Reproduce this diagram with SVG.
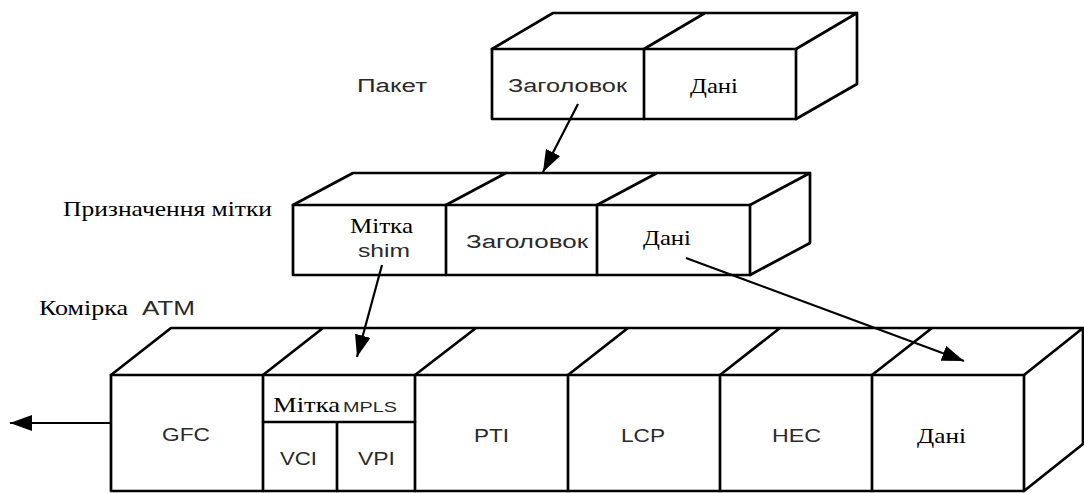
<svg xmlns="http://www.w3.org/2000/svg" width="1084" height="493" viewBox="0 0 1084 493">
  <style>
    .edge { fill: none; stroke: #000; stroke-width: 2.7; stroke-linejoin: round; stroke-linecap: round; }
    .face { fill: #fff; stroke: #000; stroke-width: 2.7; stroke-linejoin: round; }
    .conn { fill: none; stroke: #000; stroke-width: 2.2; }
    .sans { font-family: "Liberation Sans", Arial, sans-serif; fill: #2a2a2a; }
    .serif { font-family: "Liberation Serif", "Times New Roman", serif; fill: #000; }
  </style>
  <defs>
    <marker id="arrow" markerUnits="userSpaceOnUse" markerWidth="24" markerHeight="16" refX="22" refY="8" orient="auto">
      <path d="M0,0 L22,8 L0,16 z" fill="#000"/>
    </marker>
  </defs>

  <rect width="1084" height="493" fill="#fff"/>

  <!-- Packet block: header + data -->
  <g id="packet">
    <rect class="face" x="492" y="49" width="304" height="70"/>
    <path class="edge" d="M644,49 V119"/>
    <path class="edge" d="M492,49 L553,13 H857 V84 L796,119 M644,49 L705,13 M796,49 L857,13"/>
  </g>

  <!-- Labelled block: shim label + header + data -->
  <g id="labelled">
    <rect class="face" x="293" y="205" width="457" height="70"/>
    <path class="edge" d="M446,205 V275 M597,205 V275"/>
    <path class="edge" d="M293,205 L353,173 H810 V243 L750,275 M446,205 L506,173 M597,205 L657,173 M750,205 L810,173"/>
  </g>

  <!-- ATM cell block -->
  <g id="atm-cell">
    <rect class="face" x="111" y="375" width="913" height="116"/>
    <path class="edge" d="M263,375 V491 M415,375 V491 M568,375 V491 M720,375 V491 M872,375 V491"/>
    <path class="edge" d="M263,422 H415 M337,422 V491"/>
    <path class="edge" d="M111,375 L171,328 H1083 V444 L1024,491 M263,375 L323,328 M415,375 L476,328 M568,375 L628,328 M720,375 L780,328 M872,375 L932,328 M1024,375 L1083,328"/>
  </g>

  <!-- Captions -->
  <g id="captions">
    <text class="sans" x="357" y="92" font-size="18" textLength="70" lengthAdjust="spacingAndGlyphs">Пакет</text>
    <text class="serif" x="63" y="216" font-size="21" textLength="209" lengthAdjust="spacingAndGlyphs">Призначення мітки</text>
    <text class="serif" x="39" y="315" font-size="22" textLength="89" lengthAdjust="spacingAndGlyphs">Комірка</text>
    <text class="sans" x="142" y="315" font-size="20" textLength="53" lengthAdjust="spacingAndGlyphs">АТМ</text>
  </g>

  <!-- Field labels -->
  <g id="packet-labels">
    <text class="sans" x="508" y="92" font-size="18" textLength="119" lengthAdjust="spacingAndGlyphs">Заголовок</text>
    <text class="serif" x="690" y="93" font-size="21" textLength="48" lengthAdjust="spacingAndGlyphs">Дані</text>
  </g>
  <g id="labelled-labels">
    <text class="serif" x="350" y="233" font-size="21" textLength="63" lengthAdjust="spacingAndGlyphs">Мітка</text>
    <text class="sans" x="358" y="257" font-size="18" textLength="52" lengthAdjust="spacingAndGlyphs">shim</text>
    <text class="sans" x="466" y="248" font-size="18" textLength="122" lengthAdjust="spacingAndGlyphs">Заголовок</text>
    <text class="serif" x="643" y="245" font-size="21" textLength="48" lengthAdjust="spacingAndGlyphs">Дані</text>
  </g>
  <g id="atm-labels">
    <text class="serif" x="273" y="412" font-size="21" textLength="67" lengthAdjust="spacingAndGlyphs">Мітка</text>
    <text class="sans" x="343" y="412" font-size="15" textLength="54" lengthAdjust="spacingAndGlyphs">MPLS</text>
    <text class="sans" x="162" y="441" font-size="19" textLength="48" lengthAdjust="spacingAndGlyphs">GFC</text>
    <text class="sans" x="280" y="465" font-size="18" textLength="37" lengthAdjust="spacingAndGlyphs">VCI</text>
    <text class="sans" x="358" y="465" font-size="18" textLength="37" lengthAdjust="spacingAndGlyphs">VPI</text>
    <text class="sans" x="474" y="442" font-size="19" textLength="35" lengthAdjust="spacingAndGlyphs">PTI</text>
    <text class="sans" x="621" y="442" font-size="19" textLength="44" lengthAdjust="spacingAndGlyphs">LCP</text>
    <text class="sans" x="772" y="442" font-size="19" textLength="49" lengthAdjust="spacingAndGlyphs">HEC</text>
    <text class="serif" x="917" y="443" font-size="21" textLength="49" lengthAdjust="spacingAndGlyphs">Дані</text>
  </g>

  <!-- Connectors -->
  <g id="connectors">
    <path class="conn" d="M578,104 L543,172" marker-end="url(#arrow)"/>
    <path class="conn" d="M382,265 L357,357" marker-end="url(#arrow)"/>
    <path class="conn" d="M686,258 L964,361" marker-end="url(#arrow)"/>
    <path class="conn" d="M111,423 L10,423" marker-end="url(#arrow)"/>
  </g>
</svg>
